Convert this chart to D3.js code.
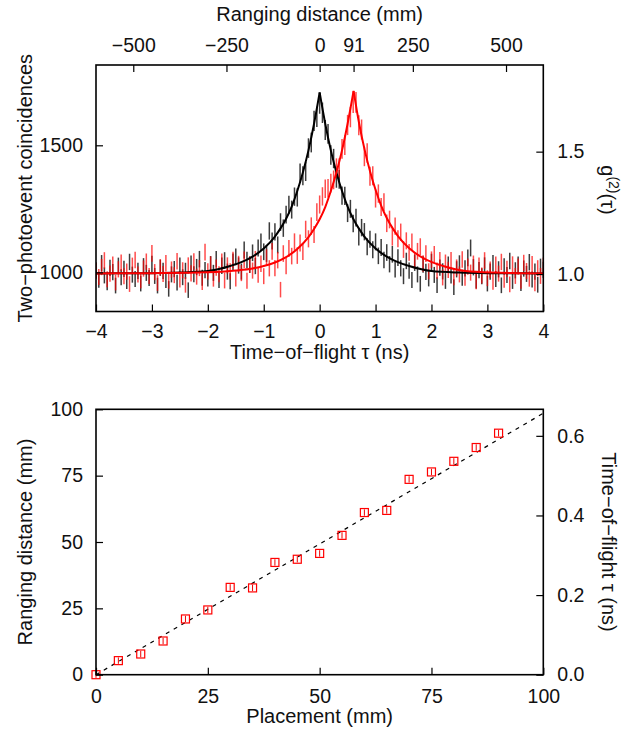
<!DOCTYPE html>
<html>
<head>
<meta charset="utf-8">
<script src="https://cdn.jsdelivr.net/npm/d3@7"></script>
<style>
  body { margin: 0; background: #fff; }
  svg { display: block; }
  text { font-family: "Liberation Sans", Arial, Helvetica, sans-serif; fill: #111; }
</style>
</head>
<body>
<svg id="chart" width="643" height="731"></svg>
<script>
// ---------------- Top panel data ----------------
const binStart = -4;      // ns, first time bin
const binWidth = 0.05;    // ns
// Two-photoevent coincidences per time bin
const blackCounts = [
1008,971,1036,988,961,1018,1001,948,1026,981,
1014,966,1041,991,974,1006,956,1024,998,978,
1033,986,948,1018,1006,970,935,992,1013,960,
1026,981,1006,930,1034,993,1021,1052,979,1009,
976,1032,998,1052,970,1026,1047,1003,965,1042,
1061,1027,1003,1088,1049,1030,1077,1025,1096,1119,
1081,1074,1163,1123,1159,1108,1198,1174,1227,1266,
1247,1298,1295,1391,1380,1397,1489,1511,1596,1612,
1665,
1628,1560,1545,1462,1448,1370,1366,1302,1301,
1233,1250,1192,1215,1139,1176,1160,1101,1130,1089,
1120,1065,1098,1049,1078,1032,1071,1012,1058,1016,
985,1045,1007,970,1038,992,955,1031,1002,976,
1041,990,950,1019,1004,966,1030,988,942,1012,
1035,979,1016,1057,1096,1020,968,1009,985,1027,
956,1003,1036,974,1012,949,1024,990,1045,966,
1008,1030,958,1015,994,1040,972,1003,951,1022,
1010
];
const redCounts = [
1005,982,1021,1047,973,995,1030,960,1012,1038,
985,1003,954,1026,1049,992,968,1015,1042,986,
1075,1001,958,1020,994,1036,967,1011,989,1044,
972,1008,951,1027,996,1043,983,1017,962,1080,
1004,1031,975,1019,993,1042,968,1027,1004,1049,
976,1033,997,1050,967,1031,1007,1052,991,1034,
985,1058,1016,1083,1017,1048,932,1074,1025,1094,
1064,1120,1066,1116,1082,1169,1132,1182,1149,1237,
1267,1299,1329,1331,1351,1364,1411,1411,1486,1501,
1580,1611,1668,1669,1579,1562,1456,1470,1378,1380,
1291,1310,1257,1276,1193,1208,1139,1182,1132,1158,
1090,1124,1079,1119,1046,1083,1101,1035,1074,1004,
1050,1071,1007,1048,980,1038,1010,1048,981,1019,
992,1051,979,1023,999,1034,965,1026,988,1047,
977,1011,963,1030,995,1041,971,1014,953,1031,
986,1023,967,1037,1005,975,1032,957,1016,986,
1026
];
// Fit curves
const blackFitTau = [-4,-3,-2.5,-2,-1.6,-1.4,-1.2,-1,-0.8,-0.7,-0.6,-0.5,-0.4,-0.3,-0.2,-0.1,0,
                     0.1,0.2,0.3,0.4,0.5,0.6,0.7,0.8,1,1.2,1.4,1.6,2,2.5,3,4];
const blackFitCounts = [996,997,999,1005,1025,1040,1062,1094,1141,1173,1211,1259,1320,1393,1480,1585,1708,
                        1585,1480,1393,1320,1259,1211,1173,1141,1094,1062,1040,1025,1005,999,997,996];
const redFitTau = [-4,-3,-2,-1.5,-1.2,-1,-0.8,-0.6,-0.4,-0.2,-0.1,0,0.1,0.2,0.3,0.4,0.5,0.607,
                   0.707,0.807,0.907,1.007,1.107,1.207,1.307,1.407,1.607,1.807,2.007,2.207,2.607,3.107,4];
const redFitCounts = [996,997,1000,1007,1015,1025,1039,1060,1092,1139,1171,1209,1257,1320,1393,1480,1585,1714,
                      1585,1480,1393,1320,1259,1211,1173,1141,1094,1062,1040,1025,1005,999,996];

const tauTicks = [-4,-3,-2,-1,0,1,2,3,4];
const mmTicks = [-500,-250,0,91,250,500];
const countTicks = [1000,1500];
const g2Ticks = [1.0,1.5];

// ---------------- Bottom panel data ----------------
const placement = [0,5,10,15,20,25,30,35,40,45,50,55,60,65,70,75,80,85,90];
const ranging   = [0,5.3,7.8,12.7,21.0,24.4,32.9,32.7,42.3,43.5,45.7,52.5,61.1,61.9,73.6,76.4,80.4,85.6,91.0];
const rangingErr = [1.2,1.2,1.2,1.2,1.2,1.2,1.2,1.2,1.2,1.2,1.2,1.2,1.2,1.2,1.2,1.2,1.2,1.2,1.2];
const fitLineX = [0,100];
const fitLineY = [0,98.5];
const placeTicks = [0,25,50,75,100];
const rangeTicks = [0,25,50,75,100];
const tofTicks = [0,0.2,0.4,0.6];

// ---------------- Drawing ----------------
const svg = d3.select("#chart");
const L = 96, R = 543.3;
const FS_TICK = 19.5, FS_LAB = 20;

function styleAxis(g) {
  g.select(".domain").remove();
  g.selectAll(".tick line").attr("stroke", "#000").attr("stroke-width", 1.2);
  g.selectAll(".tick text").attr("font-size", FS_TICK).attr("fill", "#111")
    .attr("font-family", '"Liberation Sans", Arial, Helvetica, sans-serif');
  g.attr("font-family", null).attr("font-size", null);
}

// ===== Top panel =====
const T1 = 65, B1 = 311.5;
const x1 = d3.scaleLinear().domain([-4,4]).range([L,R]);
const x1mm = d3.scaleLinear().domain([-600,600]).range([L,R]);
const y1 = d3.scaleLinear().domain([846,1816]).range([B1,T1]);
const y1g = d3.scaleLinear().domain([0.847,1.854]).range([B1,T1]);

svg.append("clipPath").attr("id","clip1")
  .append("rect").attr("x",L).attr("y",T1).attr("width",R-L+1).attr("height",B1-T1);

const dataG = svg.append("g").attr("clip-path","url(#clip1)");
function drawBars(counts, color, opacity) {
  dataG.append("g").selectAll("line").data(counts).join("line")
    .attr("x1",(d,i)=>x1(binStart+i*binWidth))
    .attr("x2",(d,i)=>x1(binStart+i*binWidth))
    .attr("y1",d=>y1(d-Math.sqrt(d)))
    .attr("y2",d=>y1(d+Math.sqrt(d)))
    .attr("stroke",color).attr("stroke-width",1.5).attr("opacity",opacity);
}
drawBars(blackCounts,"#1a1a1a",0.85);
drawBars(redCounts,"#ff0000",0.7);

function drawFit(taus, counts, color) {
  const pts = taus.map((t,i)=>[t,counts[i]]);
  const iMax = d3.maxIndex(counts);
  const line = d3.line().x(d=>x1(d[0])).y(d=>y1(d[1])).curve(d3.curveMonotoneX);
  dataG.append("path").attr("d", line(pts.slice(0,iMax+1)))
    .attr("fill","none").attr("stroke",color).attr("stroke-width",2);
  dataG.append("path").attr("d", line(pts.slice(iMax)))
    .attr("fill","none").attr("stroke",color).attr("stroke-width",2);
}
drawFit(blackFitTau, blackFitCounts, "#000");
drawFit(redFitTau, redFitCounts, "#ff0000");

svg.append("g").attr("transform",`translate(0,${B1})`)
  .call(d3.axisBottom(x1).tickValues(tauTicks).tickFormat(d3.format("d")).tickSize(-7).tickPadding(13))
  .call(styleAxis);
svg.append("g").attr("transform",`translate(0,${T1})`)
  .call(d3.axisTop(x1mm).tickValues(mmTicks).tickFormat(d3.format("d")).tickSize(-7).tickPadding(13))
  .call(styleAxis);
svg.append("g").attr("transform",`translate(${L},0)`)
  .call(d3.axisLeft(y1).tickValues(countTicks).tickFormat(d3.format("d")).tickSize(-7).tickPadding(13))
  .call(styleAxis);
svg.append("g").attr("transform",`translate(${R},0)`)
  .call(d3.axisRight(y1g).tickValues(g2Ticks).tickFormat(d3.format(".1f")).tickSize(-7).tickPadding(14))
  .call(styleAxis);

svg.append("rect").attr("x",L).attr("y",T1).attr("width",R-L).attr("height",B1-T1)
  .attr("fill","none").attr("stroke","#000").attr("stroke-width",1.6);

svg.append("text").attr("x",(L+R)/2).attr("y",21).attr("text-anchor","middle")
  .attr("font-size",FS_LAB).text("Ranging distance (mm)");
svg.append("text").attr("x",(L+R)/2).attr("y",359).attr("text-anchor","middle")
  .attr("font-size",FS_LAB).text("Time\u2212of\u2212flight \u03c4 (ns)");
svg.append("text").attr("transform",`translate(32,${(T1+B1)/2}) rotate(-90)`).attr("text-anchor","middle")
  .attr("font-size",FS_LAB).text("Two\u2212photoevent coincidences");
const g2lab = svg.append("text").attr("transform",`translate(601,190) rotate(90)`).attr("text-anchor","middle")
  .attr("font-size",FS_LAB);
g2lab.append("tspan").text("g");
g2lab.append("tspan").attr("dy",-8).attr("font-size",14).text("(2)");
g2lab.append("tspan").attr("dy",8).text("(\u03c4)");

// ===== Bottom panel =====
const T2 = 409.3, B2 = 674.7;
const x2 = d3.scaleLinear().domain([0,100]).range([L,R]);
const y2 = d3.scaleLinear().domain([0,100]).range([B2,T2]);
const y2t = d3.scaleLinear().domain([0,100/150]).range([B2,T2]);

svg.append("path").attr("d", d3.line().x(d=>x2(d[0])).y(d=>y2(d[1]))(fitLineX.map((v,i)=>[v,fitLineY[i]])))
  .attr("fill","none").attr("stroke","#000").attr("stroke-width",1.2).attr("stroke-dasharray","4,5");

const pts2 = placement.map((p,i)=>({p, r:ranging[i], e:rangingErr[i]}));
const sq = 8;
svg.append("g").selectAll("line").data(pts2).join("line")
  .attr("x1",d=>x2(d.p)).attr("x2",d=>x2(d.p))
  .attr("y1",d=>y2(d.r-d.e)).attr("y2",d=>y2(d.r+d.e))
  .attr("stroke","#e00").attr("stroke-width",1);
svg.append("g").selectAll("rect").data(pts2).join("rect")
  .attr("x",d=>x2(d.p)-sq/2).attr("y",d=>y2(d.r)-sq/2).attr("width",sq).attr("height",sq)
  .attr("fill","none").attr("stroke","#ff0000").attr("stroke-width",1.2);

svg.append("g").attr("transform",`translate(0,${B2})`)
  .call(d3.axisBottom(x2).tickValues(placeTicks).tickSize(-7).tickPadding(14))
  .call(styleAxis);
svg.append("g").attr("transform",`translate(${L},0)`)
  .call(d3.axisLeft(y2).tickValues(rangeTicks).tickSize(-7).tickPadding(13))
  .call(styleAxis);
svg.append("g").attr("transform",`translate(${R},0)`)
  .call(d3.axisRight(y2t).tickValues(tofTicks).tickFormat(d3.format(".1f")).tickSize(-7).tickPadding(14))
  .call(styleAxis);

svg.append("rect").attr("x",L).attr("y",T2).attr("width",R-L).attr("height",B2-T2)
  .attr("fill","none").attr("stroke","#000").attr("stroke-width",1.6);

svg.append("text").attr("x",(L+R)/2).attr("y",723).attr("text-anchor","middle")
  .attr("font-size",FS_LAB).text("Placement (mm)");
svg.append("text").attr("transform",`translate(32,${(T2+B2)/2}) rotate(-90)`).attr("text-anchor","middle")
  .attr("font-size",FS_LAB).text("Ranging distance (mm)");
svg.append("text").attr("transform",`translate(602,${(T2+B2)/2}) rotate(90)`).attr("text-anchor","middle")
  .attr("font-size",FS_LAB).text("Time\u2212of\u2212flight \u03c4 (ns)");
</script>
</body>
</html>
